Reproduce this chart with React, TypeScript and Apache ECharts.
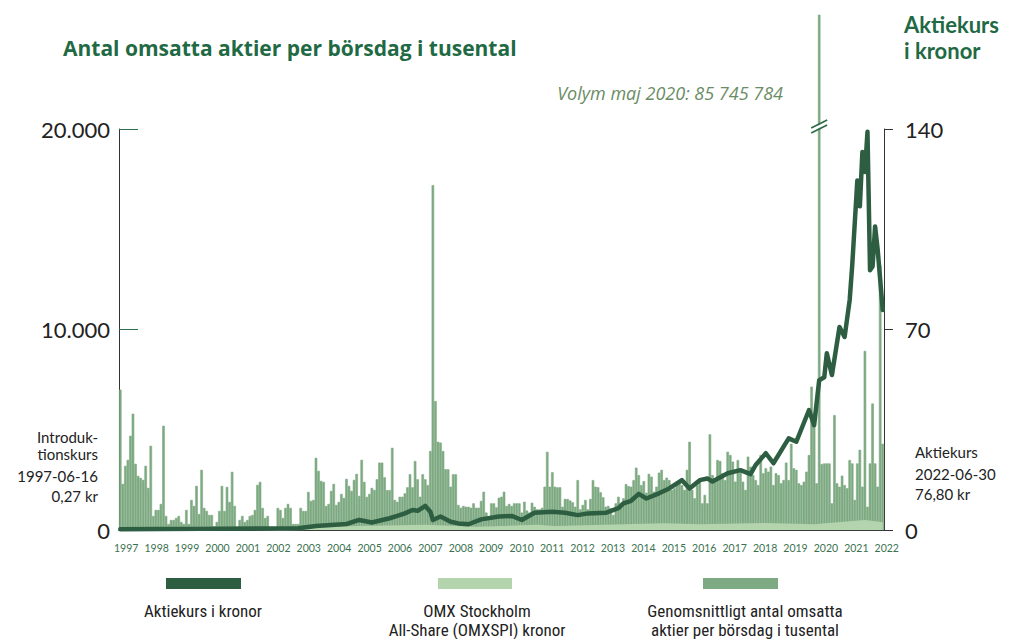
import React, { useEffect, useRef } from "react";
import * as echarts from "echarts";

// ---------- categories ----------
const START_YEAR = 1997;
const START_MONTH = 6;
const MONTH_COUNT = 301; // 1997-06 .. 2022-06
const MONTHS: string[] = [];
for (let i = 0; i < MONTH_COUNT; i++) {
  const m = START_MONTH - 1 + i;
  MONTHS.push(`${START_YEAR + Math.floor(m / 12)}-${String((m % 12) + 1).padStart(2, "0")}`);
}

const YEAR_LABELS = [
  "1997", "1998", "1999", "2000", "2001", "2002", "2003", "2004", "2005", "2006", "2007", "2008", "2009",
  "2010", "2011", "2012", "2013", "2014", "2015", "2016", "2017", "2018", "2019", "2020", "2021", "2022",
];

// ---------- volume (thousands of shares per trading day, monthly average) ----------
const VOLUME_1997_2005 = [
  7000, 2300, 3200, 3500, 4700, 5800, 3300, 2700, 2600, 2500,
  3200, 2100, 4200, 700, 1000, 1000, 1300, 5200, 700, 300,
  500, 500, 600, 700, 400, 300, 1000, 300, 1500, 1200,
  2200, 800, 3000, 1100, 950, 750, 750, 150, 400, 950,
  2200, 950, 2150, 1400, 2900, 1200, 150, 500, 700, 400,
  500, 700, 750, 1000, 2250, 2400, 1100, 600, 700, 150,
  150, 100, 1100, 1000, 600, 1100, 1300, 1100, 300, 300,
  300, 1100, 950, 950, 1900, 1450, 1500, 3600, 2950, 2450,
  2400, 1200, 1300, 1950, 2300, 1250, 1400, 1800, 1600, 2550,
  2200, 1950, 2500, 2800, 1700, 3500, 2400, 1650, 1800, 2100,
  2000,
];
const VOLUME_2005_2007 = [
  2530, 3360, 3360, 2630, 1990, 1990, 4100, 1500, 1410, 1660,
  1660, 1830, 2130, 2780, 2130, 3440, 2530, 1660, 2780, 2530,
  2240, 3940,
  17200,
];
const VOLUME_2007_2014 = [
  6430, 4400, 4360, 3940, 3030, 3030, 2160, 2780, 2780, 1250,
  1110, 1200, 1160, 1160, 1110, 1330, 1110, 1110, 1450, 1910,
  870, 670, 1330, 1330, 1130, 1610, 1660, 1910, 1200, 1300,
  1200, 1330, 1330, 1330, 870, 1410, 970, 870, 1360, 1160,
  1030, 1030, 1110, 2160, 3900, 2160, 2880, 2160, 2130, 2130,
  1160, 1550, 1550, 1470, 1380, 1160, 2490, 1030, 1250, 1500,
  1030, 1550, 2490, 2160, 2130, 1880, 1630, 1160, 1200, 1080,
  750, 1330, 1660, 1360, 1580, 2290, 2190,
];
const VOLUME_2014_2020 = [
  2160, 2490, 3110, 2740, 2240, 2440, 1860, 2800, 2660, 1910,
  2160, 2860, 3000, 2490, 2610, 2490, 2000, 2080, 2330, 2360,
  2240, 2000, 3000, 4400, 2000, 1580, 2240, 2490, 1330, 1750,
  1330, 4770, 2740, 2410, 3490, 3440, 2830, 2490, 3900, 3740,
  3410, 2410, 3490, 3000, 2410, 2000, 3660, 3160, 2740, 2490,
  2240, 3740, 2830, 3080, 2910, 3160, 2240, 2830, 2740, 2330,
  2490, 3360, 2490, 4300, 3080, 3000, 2330, 2240, 2410, 2910,
  3740, 7150, 5150, 2330,
  85745.784, // maj 2020
];
const VOLUME_2020_2022 = [
  3290, 3320, 3320, 3320, 1330, 5730, 2330, 2160, 2710, 2240,
  2080, 3490, 3320, 1500, 3320, 4000, 2160, 8930, 1160, 3320,
  6310, 3320, 2160, 13200, 4300,
];
const VOLUME = [
  ...VOLUME_1997_2005,
  ...VOLUME_2005_2007,
  ...VOLUME_2007_2014,
  ...VOLUME_2014_2020,
  ...VOLUME_2020_2022,
];
const BREAK_MONTH = "2020-05";
const BREAK_CAP = 25700; // broken-axis display height of the off-scale bar

// ---------- share price (kr) ----------
const PRICE_DATES = [
  "1997-06", "2000-02", "2003-04", "2003-11", "2004-11", "2005-04", "2005-09", "2006-04", "2006-07", "2006-10",
  "2007-01", "2007-03", "2007-06", "2007-08", "2007-09", "2007-12", "2008-04", "2008-07", "2008-11", "2009-04",
  "2009-11", "2010-04", "2010-08", "2011-01", "2011-08", "2012-01", "2012-06", "2012-10", "2013-05", "2013-10",
  "2013-12", "2014-03", "2014-06", "2014-09", "2015-02", "2015-06", "2015-11", "2016-02", "2016-06", "2016-09",
  "2016-11", "2017-05", "2017-10", "2018-02", "2018-04", "2018-08", "2018-11", "2019-03", "2019-05", "2019-08",
  "2020-01", "2020-03", "2020-05", "2020-07", "2020-08", "2020-10", "2021-01", "2021-03", "2021-05", "2021-06",
  "2021-08", "2021-09", "2021-10", "2021-11", "2021-12", "2022-01", "2022-02", "2022-03", "2022-04", "2022-06",
];
const PRICE_VALUES = [
  0.27, 0.4, 0.6, 1.4, 2.1, 3.5, 2.6, 4.1, 4.9, 5.8,
  7.0, 6.7, 8.4, 6.4, 3.5, 4.7, 2.9, 2.3, 2.0, 3.7,
  4.7, 4.9, 3.5, 6.0, 6.4, 6.0, 5.2, 5.8, 6.0, 7.6,
  9.3, 10.2, 12.6, 11.0, 12.8, 14.5, 17.4, 14.5, 17.4, 18.0,
  16.9, 19.8, 20.9, 19.5, 22.7, 26.8, 23.3, 29.1, 32.0, 30.8,
  41.9, 36.6, 52.3, 53.3, 61.7, 54.1, 70.9, 67.4, 80.3, 92.5,
  122, 113, 132, 125, 139, 90.7, 92, 106, 98, 76.8,
];

// ---------- OMXSPI in kronor ----------
const OMX_DATES = [
  "1997-06", "2000-03", "2002-09", "2007-06", "2009-02", "2011-02", "2011-09",
  "2015-04", "2016-06", "2018-08", "2020-03", "2021-11", "2022-06",
];
const OMX_VALUES = [0.3, 0.9, 0.35, 1.3, 0.6, 1.3, 0.9, 1.8, 1.5, 1.9, 1.5, 3.0, 2.2];

// ---------- colours ----------
const C_PRICE = "#2e5e42";
const C_OMX = "#b3d4ac";
const C_VOL = "#7daa82";
const C_TITLE = "#1f6a44";
const C_TEXT = "#222222";
const FONT = "Lato, 'Open Sans', sans-serif";
const HEAD_FONT = "'Open Sans', Lato, sans-serif";
const LEGEND_FONT = "'Liberation Sans Narrow', 'Roboto Condensed', Roboto, sans-serif";

const thousands = (v: number) => String(v).replace(/\B(?=(\d{3})+(?!\d))/g, ".");

function txt(x: number, y: number, text: string, o: any = {}) {
  return {
    type: "text",
    x,
    y,
    silent: true,
    style: {
      text,
      fill: o.fill || C_TEXT,
      fontSize: o.size || 16,
      fontWeight: o.weight || "normal",
      fontStyle: o.italic ? "italic" : "normal",
      fontFamily: o.family || FONT,
      lineHeight: o.lineHeight,
      align: o.align || "left",
      textAlign: o.align || "left",
      verticalAlign: "middle",
      textVerticalAlign: "middle",
    },
  };
}

export default function App() {
  const ref = useRef<HTMLDivElement>(null);

  useEffect(() => {
    if (!ref.current) return;
    const chart = echarts.init(ref.current, undefined, { renderer: "svg" });

    const option: any = {
      animation: false,
      backgroundColor: "#ffffff",
      grid: [
        { left: 119, right: 125, top: 129, bottom: 109 },
        { left: 111, right: 107, top: 129, bottom: 109 },
      ],
      xAxis: [
        {
          type: "category",
          gridIndex: 0,
          data: MONTHS,
          axisLine: { show: true, lineStyle: { color: "#333333", width: 1 } },
          axisTick: { show: false },
          axisLabel: { show: false },
          splitLine: { show: false },
        },
        {
          type: "category",
          gridIndex: 1,
          data: YEAR_LABELS,
          axisLine: { show: false },
          axisTick: { show: false },
          axisLabel: { color: "#3a7250", fontSize: 10.5, fontFamily: FONT, margin: 12, interval: 0 },
          splitLine: { show: false },
        },
      ],
      yAxis: [
        {
          type: "value",
          gridIndex: 0,
          position: "left",
          min: 0,
          max: 20000,
          interval: 10000,
          axisLine: { show: true, lineStyle: { color: "#333333", width: 1 } },
          axisTick: { show: true, inside: true, length: 19, lineStyle: { color: "#2e7050", width: 1 } },
          axisLabel: { formatter: thousands, fontSize: 22, color: C_TEXT, fontFamily: FONT, margin: 9 },
          splitLine: { show: false },
        },
        {
          type: "value",
          gridIndex: 0,
          position: "right",
          min: 0,
          max: 140,
          interval: 70,
          axisLine: { show: true, lineStyle: { color: "#333333", width: 1 } },
          axisTick: { show: true, length: 9, lineStyle: { color: "#333333", width: 1 } },
          axisLabel: { fontSize: 22, color: C_TEXT, fontFamily: FONT, margin: 21 },
          splitLine: { show: false },
        },
        { type: "value", gridIndex: 1, show: false },
      ],
      series: [
        {
          name: "Genomsnittligt antal omsatta aktier per börsdag i tusental",
          type: "bar",
          xAxisIndex: 0,
          yAxisIndex: 0,
          clip: false,
          barCategoryGap: "0%",
          data: VOLUME.map((v) => Math.min(v, BREAK_CAP)),
          itemStyle: { color: C_VOL, borderColor: C_VOL, borderWidth: 0.6 },
          z: 2,
        },
        {
          name: "OMX Stockholm All-Share (OMXSPI) kronor",
          type: "line",
          xAxisIndex: 0,
          yAxisIndex: 1,
          data: OMX_DATES.map((d, i) => [d, OMX_VALUES[i]]),
          showSymbol: false,
          lineStyle: { color: C_OMX, width: 3 },
          areaStyle: { color: C_OMX, opacity: 1 },
          z: 3,
        },
        {
          name: "Aktiekurs i kronor",
          type: "line",
          xAxisIndex: 0,
          yAxisIndex: 1,
          data: PRICE_DATES.map((d, i) => [d, PRICE_VALUES[i]]),
          showSymbol: false,
          lineStyle: { color: C_PRICE, width: 4.5, cap: "round", join: "round" },
          z: 4,
        },
      ],
    };
    chart.setOption(option);

    const bx = chart.convertToPixel({ xAxisIndex: 0 }, BREAK_MONTH) as number;
    const by = (chart.convertToPixel({ yAxisIndex: 0 }, 20000) as number) - 4;

    const graphic: any[] = [
      txt(63, 48, "Antal omsatta aktier per börsdag i tusental", { size: 21, weight: "bold", fill: C_TITLE, family: HEAD_FONT }),
      txt(904, 24, "Aktiekurs", { size: 22, weight: "bold", fill: C_TITLE, family: FONT }),
      txt(904, 50, "i kronor", { size: 22, weight: "bold", fill: C_TITLE, family: FONT }),
      txt(783, 93, "Volym maj 2020: 85 745 784", { size: 18, italic: true, fill: "#6a8c64", align: "right", family: HEAD_FONT }),
      txt(98, 445, "Introduk-\ntionskurs", { size: 15, align: "right", lineHeight: 17 }),
      txt(98, 476, "1997-06-16", { size: 15, align: "right" }),
      txt(98, 496, "0,27 kr", { size: 15, align: "right" }),
      txt(915, 452, "Aktiekurs", { size: 15 }),
      txt(915, 474, "2022-06-30", { size: 15 }),
      txt(915, 494, "76,80 kr", { size: 15 }),
      // break marks on the off-scale bar
      { type: "polygon", silent: true, shape: { points: [[bx - 8, by + 4], [bx + 8, by - 4], [bx + 8, by - 1], [bx - 8, by + 7]] }, style: { fill: "#ffffff" }, z: 10 },
      { type: "line", silent: true, shape: { x1: bx - 8, y1: by + 3, x2: bx + 8, y2: by - 5 }, style: { stroke: "#2f6b48", lineWidth: 1.8 }, z: 11 },
      { type: "line", silent: true, shape: { x1: bx - 8, y1: by + 8, x2: bx + 8, y2: by }, style: { stroke: "#2f6b48", lineWidth: 1.8 }, z: 11 },
      // legend
      { type: "rect", silent: true, shape: { x: 166, y: 578, width: 75, height: 11 }, style: { fill: C_PRICE } },
      { type: "rect", silent: true, shape: { x: 438, y: 578, width: 74, height: 11 }, style: { fill: C_OMX } },
      { type: "rect", silent: true, shape: { x: 703, y: 578, width: 75, height: 11 }, style: { fill: C_VOL } },
      txt(203, 611, "Aktiekurs i kronor", { size: 17, family: LEGEND_FONT, align: "center" }),
      txt(477, 620.5, "OMX Stockholm\nAll-Share (OMXSPI) kronor", { size: 17, family: LEGEND_FONT, align: "center", lineHeight: 19 }),
      txt(745, 620.5, "Genomsnittligt antal omsatta\naktier per börsdag i tusental", { size: 17, family: LEGEND_FONT, align: "center", lineHeight: 19 }),
    ];
    chart.setOption({ graphic });

    return () => chart.dispose();
  }, []);

  return (
    <div
      ref={ref}
      style={{ position: "fixed", left: 0, top: 0, width: 1009, height: 639, background: "#fff" }}
    />
  );
}
